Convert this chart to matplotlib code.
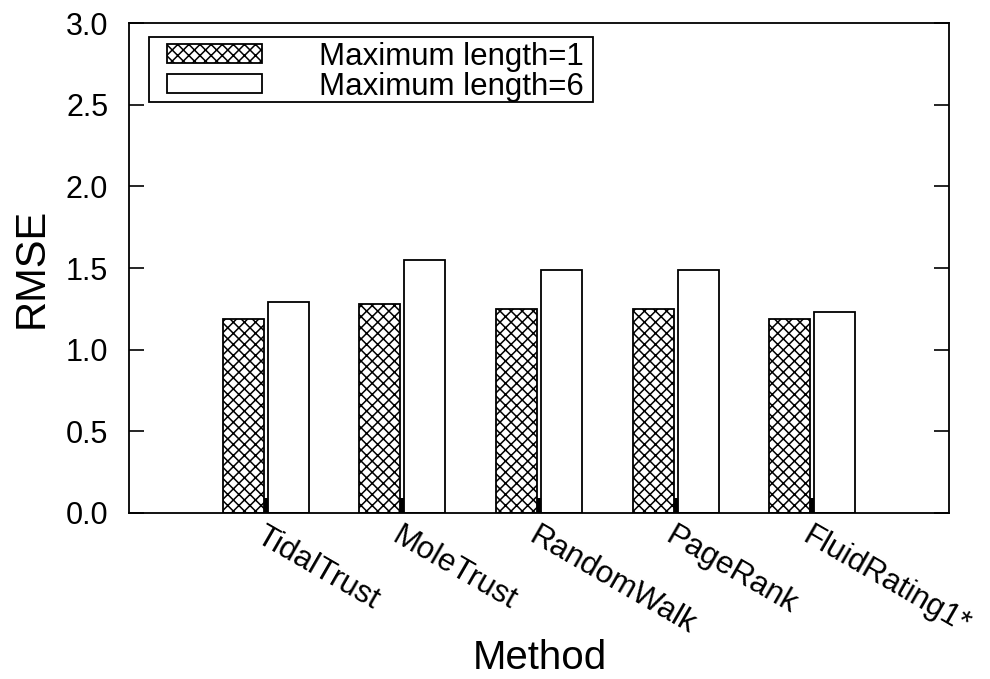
import numpy as np
import matplotlib
matplotlib.use("Agg")
import matplotlib.pyplot as plt
from matplotlib.patches import Rectangle
from matplotlib.transforms import ScaledTranslation

plt.rcParams["font.family"] = ["Liberation Sans", "DejaVu Sans"]
plt.rcParams["hatch.linewidth"] = 1.1

methods = ["TidalTrust", "MoleTrust", "RandomWalk", "PageRank", "FluidRating1*"]
rmse_len1 = [1.19, 1.28, 1.25, 1.25, 1.19]
rmse_len6 = [1.29, 1.55, 1.49, 1.49, 1.23]
series_labels = ["Maximum length=1", "Maximum length=6"]

x = np.arange(1, len(methods) + 1)
w = 0.30

fig = plt.figure(figsize=(9.9, 6.79), dpi=100)
ax = fig.add_axes([0.1303, 0.2445, 0.8283, 0.7216])

ax.bar(x - 0.165, rmse_len1, width=w, facecolor="white", edgecolor="black",
       hatch="xxx", linewidth=1.3, label=series_labels[0])
ax.bar(x + 0.165, rmse_len6, width=w, facecolor="white", edgecolor="black",
       linewidth=1.3, label=series_labels[1])

ax.set_xlim(0, 6)
ax.set_ylim(0, 3.0)
yt = np.arange(0, 3.01, 0.5)
ax.set_yticks(yt)
ax.set_yticklabels([f"{v:.1f}" for v in yt])
ax.set_xticks(x)
ax.set_xticklabels(methods, rotation=-30, ha="left", va="top",
                   rotation_mode="anchor", fontsize=22.5)
# nudge the slanted names a little to the right, like the original
shift = ScaledTranslation(6 / 72, 0, fig.dpi_scale_trans)
for lab in ax.get_xticklabels():
    lab.set_transform(lab.get_transform() + shift)

ax.tick_params(axis="y", direction="in", length=11, width=1.2,
               labelsize=22, right=True, pad=15)
ax.tick_params(axis="x", direction="in", length=11, width=3, pad=6)
for s in ax.spines.values():
    s.set_linewidth(1.3)

ax.set_ylabel("RMSE", fontsize=30, labelpad=10)
ax.set_xlabel("Method", fontsize=29)
ax.xaxis.label.set_va("baseline")
ax.xaxis.set_label_coords(0.501, -0.318)

# legend, gnuplot style: plain box, text set well apart from the keys
leg = ax.legend(loc="upper left", bbox_to_anchor=(0.0463, 0.962),
                borderaxespad=0, borderpad=0, fontsize=22.5, frameon=False,
                handlelength=3.05, handleheight=0.55, handletextpad=1.8,
                labelspacing=0.0)
ax.add_patch(Rectangle((0.0244, 0.8388), 0.5415, 0.1327, transform=ax.transAxes,
                       facecolor="none", edgecolor="black", linewidth=1.3,
                       zorder=5))

fig.savefig("out.png", dpi=100)
